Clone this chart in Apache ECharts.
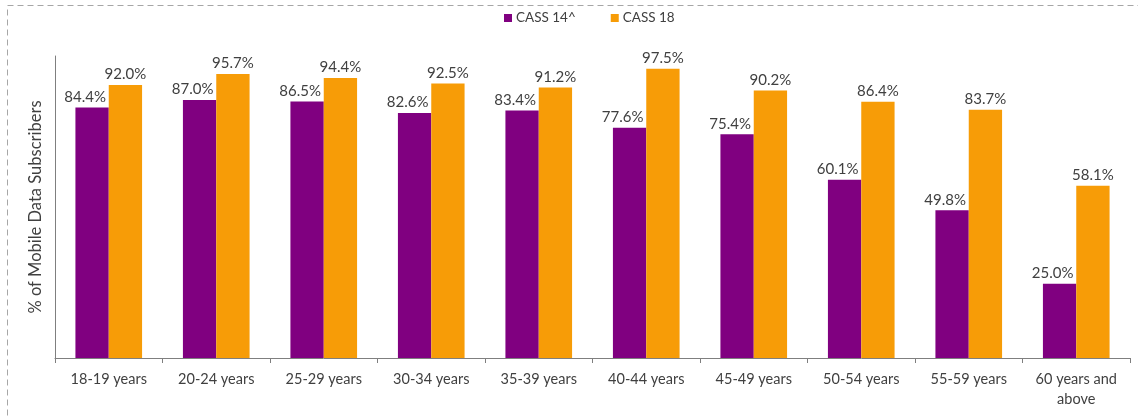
<!DOCTYPE html>
<html>
<head>
<meta charset="utf-8">
<style>
  html, body { margin: 0; padding: 0; background: #ffffff; }
  #chart { width: 1138px; height: 418px; }
</style>
<script src="https://cdn.jsdelivr.net/npm/echarts@6/dist/echarts.min.js"></script>
</head>
<body>
<div id="chart"></div>
<script>
// Age bands and share of mobile data subscribers (%) per survey round
const categories = ['18-19 years', '20-24 years', '25-29 years', '30-34 years', '35-39 years',
  '40-44 years', '45-49 years', '50-54 years', '55-59 years', '60 years and\nabove'];
const cass14 = [84.4, 87.0, 86.5, 82.6, 83.4, 77.6, 75.4, 60.1, 49.8, 25.0];
const cass18 = [92.0, 95.7, 94.4, 92.5, 91.2, 97.5, 90.2, 86.4, 83.7, 58.1];
const seriesNames = ['CASS 14^', 'CASS 18'];
const yAxisTitle = '% of Mobile Data Subscribers';

const FONT = 'Lato';
const TEXT = '#404040';

const chart = echarts.init(document.getElementById('chart'), null, { renderer: 'canvas' });

function valueLabel(dx) {
  return {
    show: true,
    position: 'top',
    distance: 3,
    offset: [dx, 0],
    color: TEXT,
    fontFamily: FONT,
    fontSize: 15,
    formatter: p => p.value.toFixed(1) + '%'
  };
}

chart.setOption({
  animation: false,
  textStyle: { fontFamily: FONT, color: TEXT },
  graphic: [{
    type: 'rect',
    shape: { x: 7.5, y: 5.5, width: 1200, height: 500 },
    style: { fill: 'none', stroke: '#a6a6a6', lineWidth: 1, lineDash: [6, 4] },
    silent: true,
    z: -1
  }],
  legend: {
    top: 11,
    left: 504,
    padding: 0,
    itemWidth: 8,
    itemHeight: 8,
    itemGap: 35,
    icon: 'rect',
    textStyle: { fontFamily: FONT, fontSize: 13.5, color: TEXT, padding: [0, 0, 0, -1] },
    data: seriesNames
  },
  grid: { left: 55, right: 8, top: 56, bottom: 60, containLabel: false },
  xAxis: {
    type: 'category',
    data: categories,
    axisLine: { lineStyle: { color: '#7f7f7f', width: 1 } },
    axisTick: { show: true, length: 5, lineStyle: { color: '#7f7f7f' } },
    axisLabel: {
      interval: 0,
      margin: 11,
      color: TEXT,
      fontFamily: FONT,
      fontSize: 14.5,
      lineHeight: 20,
      align: 'center'
    }
  },
  yAxis: {
    type: 'value',
    min: 0,
    max: 101.8,
    name: yAxisTitle,
    nameLocation: 'middle',
    nameGap: 11,
    nameTextStyle: { fontFamily: FONT, fontSize: 16.5, color: TEXT },
    axisLine: { show: true, lineStyle: { color: '#7f7f7f', width: 1 } },
    axisTick: { show: false },
    axisLabel: { show: false },
    splitLine: { show: false }
  },
  series: [
    {
      name: seriesNames[0],
      type: 'bar',
      data: cass14,
      barWidth: '31%',
      barGap: '0%',
      itemStyle: { color: '#800080' },
      label: valueLabel(-7)
    },
    {
      name: seriesNames[1],
      type: 'bar',
      data: cass18,
      barWidth: '31%',
      barGap: '0%',
      itemStyle: { color: '#f79c07' },
      label: valueLabel(0)
    }
  ]
});
</script>
</body>
</html>
